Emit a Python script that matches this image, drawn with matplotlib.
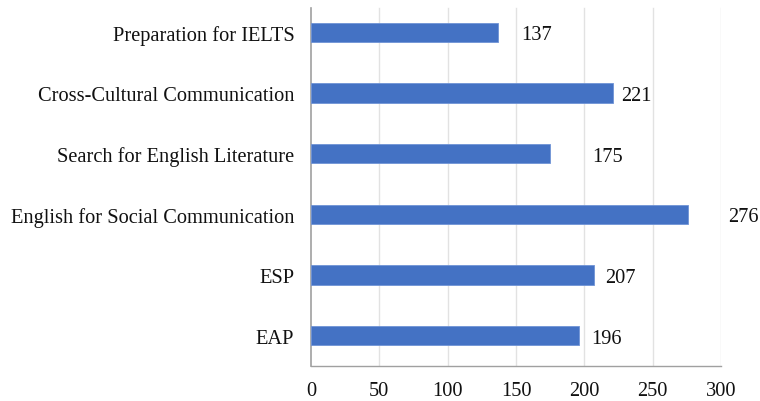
import matplotlib
matplotlib.use("Agg")
import matplotlib.pyplot as plt

categories = ["EAP", "ESP", "English for Social Communication",
              "Search for English Literature", "Cross-Cultural Communication",
              "Preparation for IELTS"]
values = [196, 207, 276, 175, 221, 137]
label_pad = [9, 8, 29, 31, 6, 17]
xticks = [0, 50, 100, 150, 200, 250, 300]

plt.rcParams['font.family'] = ['Liberation Serif', 'DejaVu Serif']
FS = 14.7

fig = plt.figure(figsize=(7.6, 4.02), dpi=100)
top_px, bot_px = 3, 367
ax = fig.add_axes([311/760, 1 - bot_px/402, 410/760, (bot_px - top_px)/402])

y = list(range(len(categories)))
ax.barh(y, values, height=0.32, color='#4472C4', edgecolor='#6f93d6', linewidth=0.6, zorder=3)
for yi, v, p in zip(y, values, label_pad):
    ax.text(v + p, yi, str(v), va='center_baseline', ha='left', fontsize=FS, color='#111111')

ax.set_xlim(0, 300)
ax.set_ylim(-0.5, len(categories) - 0.5)
ax.set_xticks(xticks)
ax.set_xticklabels([str(t) for t in xticks], fontsize=FS)
ax.set_yticks(y)
ax.set_yticklabels(categories, fontsize=FS)
ax.tick_params(axis='both', length=0, colors='#111111')
ax.tick_params(axis='x', pad=11)
ax.tick_params(axis='y', pad=12)
grid_top = 1 - (9 - top_px) / (bot_px - top_px)
for t in xticks[1:]:
    ax.axvline(t, ymin=0, ymax=grid_top, color='#e2e2e2', linewidth=1, zorder=0)
for s in ['top', 'right']:
    ax.spines[s].set_visible(False)
ax.spines['left'].set_bounds(-0.5, len(categories) - 0.5 - (9 - top_px) / ((bot_px - top_px) / len(categories)))
ax.spines['left'].set_color('#a0a0a0')
ax.spines['bottom'].set_color('#a0a0a0')
ax.spines['left'].set_linewidth(1.2)
ax.spines['bottom'].set_linewidth(1.0)

fig.savefig("out.png", dpi=100)
